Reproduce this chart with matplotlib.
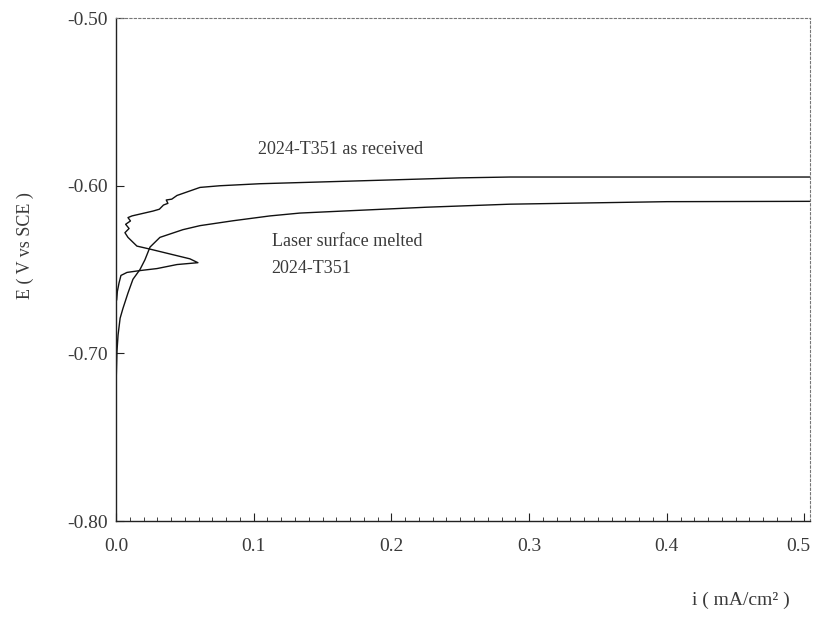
import matplotlib.pyplot as plt
from matplotlib.ticker import MultipleLocator
from matplotlib.transforms import ScaledTranslation

# polarization curves
# 2024-T351 as received (scan starts near the axis, loops out, then flattens)
recv_i = [0.0005, 0.001, 0.0022, 0.0036, 0.008, 0.0174, 0.0298, 0.0443, 0.0595,
          0.0537, 0.0392, 0.0247, 0.0152, 0.0087, 0.0065, 0.0095, 0.007, 0.0105,
          0.0087, 0.0116, 0.0269, 0.0315, 0.0345, 0.0377, 0.0365, 0.0405, 0.0443,
          0.061, 0.0755, 0.1045, 0.201, 0.25, 0.286, 0.351, 0.504]
recv_E = [-0.668, -0.663, -0.658, -0.6535, -0.6517, -0.6506, -0.6494, -0.647, -0.6459,
          -0.6436, -0.6407, -0.6378, -0.636, -0.6308, -0.628, -0.6255, -0.623, -0.621,
          -0.619, -0.618, -0.6151, -0.614, -0.6115, -0.6105, -0.6085, -0.608, -0.6058,
          -0.601, -0.600, -0.5988, -0.5965, -0.5953, -0.5948, -0.5948, -0.5948]

# laser surface melted 2024-T351
lsm_i = [0.0, 0.0007, 0.0015, 0.003, 0.005, 0.0087, 0.0123, 0.0174, 0.021, 0.0247,
         0.0319, 0.0486, 0.061, 0.0849, 0.1118, 0.1335, 0.1647, 0.2257, 0.286, 0.4, 0.504]
lsm_E = [-0.72, -0.6988, -0.689, -0.679, -0.6733, -0.664, -0.6558, -0.650, -0.6442, -0.6366,
         -0.6308, -0.6262, -0.6238, -0.6209, -0.618, -0.6163, -0.6151, -0.6128, -0.611, -0.6095, -0.6093]

y_ticks = [-0.80, -0.70, -0.60, -0.50]
y_labels = ['-0.80', '-0.70', '-0.60', '-0.50']
x_ticks = [0.0, 0.1, 0.2, 0.3, 0.4, 0.5]

plt.rcParams['font.family'] = ['Liberation Serif', 'DejaVu Serif']
txt = '#3a3a3a'

fig = plt.figure(figsize=(8.14, 6.24), dpi=100)
ax = fig.add_axes([0.1425, 0.165, 0.8525, 0.806])

ax.plot(recv_i, recv_E, color='#111111', lw=1.0)
ax.plot(lsm_i, lsm_E, color='#111111', lw=1.0)

ax.set_xlim(0, 0.504)
ax.set_ylim(-0.80, -0.50)
ax.set_xticks(x_ticks)
ax.set_xticklabels([f'{v:.1f}' for v in x_ticks])
ax.set_yticks(y_ticks)
ax.set_yticklabels(y_labels)
ax.xaxis.set_minor_locator(MultipleLocator(0.01))
ax.tick_params(axis='both', which='major', direction='in', length=6, width=0.8,
               labelsize=14, colors='#222222', labelcolor=txt, pad=6)
ax.tick_params(axis='x', which='minor', direction='in', length=3, width=0.6, colors='#222222')
ax.tick_params(axis='x', which='major', pad=12)

# last x label sits close to the right edge; nudge it left so it stays inside
last = ax.get_xticklabels()[-1]
last.set_transform(last.get_transform() + ScaledTranslation(-6 / 100, 0, fig.dpi_scale_trans))

for s in ['left', 'bottom']:
    ax.spines[s].set_linewidth(1.0)
    ax.spines[s].set_color('#222222')
for s in ['top', 'right']:
    ax.spines[s].set_linestyle((0, (2, 2)))
    ax.spines[s].set_linewidth(0.8)
    ax.spines[s].set_color('#777777')

ax.text(0.103, -0.5785, '2024-T351 as received', fontsize=13, color=txt, va='center')
ax.text(0.113, -0.633, 'Laser surface melted', fontsize=13, color=txt, va='center')
ax.text(0.113, -0.6495, '2024-T351', fontsize=13, color=txt, va='center')

fig.text(0.031, 0.607, 'E ( V vs SCE )', rotation=90, fontsize=13, color=txt,
         ha='center', va='center')
fig.text(0.91, 0.038, 'i ( mA/cm² )', fontsize=14, color=txt, ha='center', va='center')

fig.savefig('out.png', dpi=100)
